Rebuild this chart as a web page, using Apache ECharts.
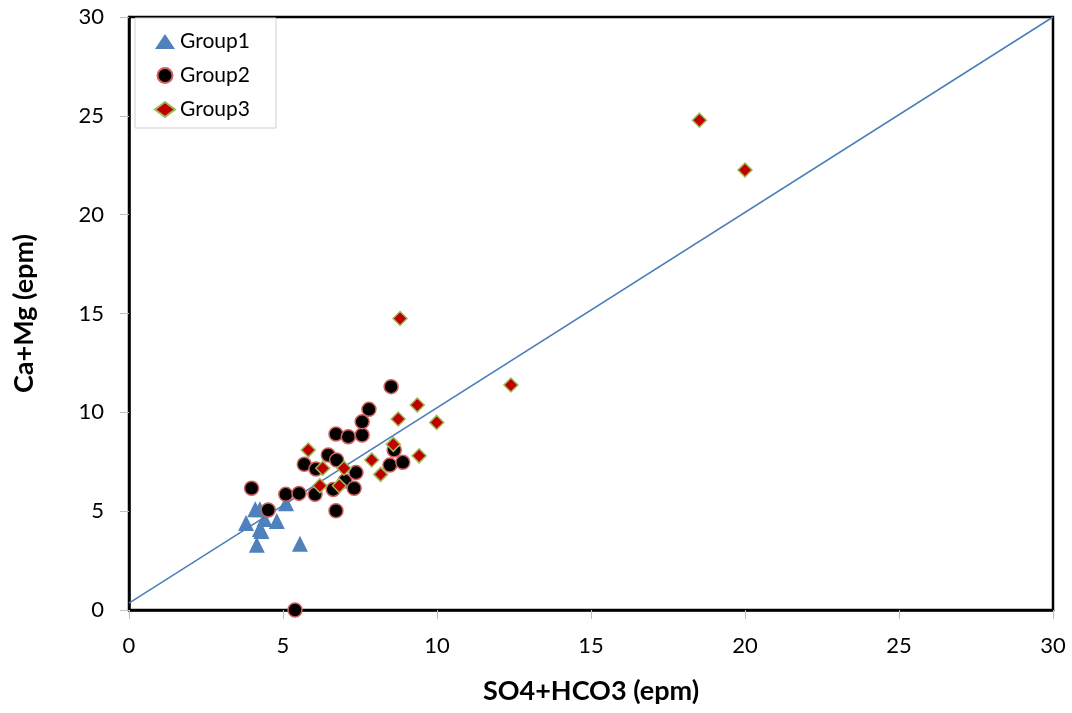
<!DOCTYPE html>
<html>
<head>
<meta charset="utf-8">
<script src="https://cdn.jsdelivr.net/npm/echarts@6/dist/echarts.min.js"></script>
<style>
  html, body { margin: 0; padding: 0; background: #fff; }
  #chart { width: 1072px; height: 713px; }
</style>
</head>
<body>
<div id="chart"></div>
<script>
// SO4+HCO3 (x) against Ca+Mg (y), both in epm
const group1X = [3.8, 4.1, 4.25, 4.15, 4.25, 4.4, 4.8, 5.1, 5.55, 4.3];
const group1Y = [4.4, 5.1, 5.1, 3.3, 4.1, 4.6, 4.5, 5.4, 3.35, 4.0];

const group2X = [3.98, 4.52, 5.09, 5.52, 6.04, 6.72, 6.63, 7.01, 7.31, 7.37, 5.69, 6.07,
                 6.47, 6.74, 6.72, 7.12, 7.57, 7.57, 7.79, 8.51, 8.47, 8.89, 8.61, 5.39];
const group2Y = [6.16, 5.06, 5.85, 5.90, 5.85, 5.02, 6.10, 6.52, 6.16, 6.95, 7.37, 7.13,
                 7.84, 7.59, 8.90, 8.77, 8.85, 9.52, 10.15, 11.30, 7.33, 7.47, 8.09, 0.0];

const group3X = [5.82, 6.29, 6.20, 6.83, 6.98, 7.88, 8.17, 8.58, 8.74, 9.36, 9.99, 9.42,
                 8.80, 12.40, 18.52, 20.0];
const group3Y = [8.09, 7.17, 6.29, 6.29, 7.17, 7.59, 6.86, 8.38, 9.66, 10.37, 9.49, 7.80,
                 14.75, 11.38, 24.78, 22.26];

// reference line end points
const lineX = [0, 30];
const lineY = [0.35, 30];

const axisTicks = [0, 5, 10, 15, 20, 25, 30];

const zip = (xs, ys) => xs.map((x, i) => [x, ys[i]]);

const font = 'Lato, "Open Sans", sans-serif';
const chart = echarts.init(document.getElementById('chart'));

const valueAxis = (name, gap, labelMargin) => ({
  type: 'value',
  min: axisTicks[0],
  max: axisTicks[axisTicks.length - 1],
  interval: axisTicks[1] - axisTicks[0],
  name: name,
  nameLocation: 'middle',
  nameGap: gap,
  nameTextStyle: { fontFamily: font, fontSize: 27, fontWeight: 'bold', color: '#000' },
  axisLine: { show: true, lineStyle: { color: '#000', width: 2.5 } },
  axisTick: { show: true, length: 9, lineStyle: { color: '#bfbfbf', width: 1 } },
  axisLabel: { fontFamily: font, fontSize: 22, color: '#000', margin: labelMargin },
  splitLine: { show: false }
});

chart.setOption({
  animation: false,
  backgroundColor: '#fff',
  grid: {
    left: 129, right: 19, top: 17, bottom: 103,
    show: true, borderColor: '#000', borderWidth: 2.5, backgroundColor: 'transparent'
  },
  legend: {
    data: ['Group1', 'Group2', 'Group3'],
    orient: 'vertical',
    left: 135, top: 18,
    padding: [13, 26, 8, 19],
    itemGap: 13,
    itemWidth: 20, itemHeight: 15,
    borderColor: '#d0d0d0', borderWidth: 1,
    backgroundColor: '#fff',
    textStyle: { fontFamily: font, fontSize: 21, color: '#000' }
  },
  xAxis: valueAxis('SO4+HCO3 (epm)', 68, 25),
  yAxis: valueAxis('Ca+Mg (epm)', 91, 25),
  series: [
    {
      name: 'line', type: 'line', data: zip(lineX, lineY),
      showSymbol: false, symbol: 'none', silent: true,
      lineStyle: { color: '#4a7ebb', width: 1.5 }, z: 3
    },
    {
      name: 'Group1', type: 'scatter', data: zip(group1X, group1Y),
      symbol: 'triangle', symbolSize: 16,
      itemStyle: { color: '#4f81bd', opacity: 1 }, z: 2
    },
    {
      name: 'Group2', type: 'scatter', data: zip(group2X, group2Y),
      symbol: 'circle', symbolSize: 14,
      itemStyle: { color: '#000', borderColor: '#d0605c', borderWidth: 1.5, opacity: 1 }, z: 4
    },
    {
      name: 'Group3', type: 'scatter', data: zip(group3X, group3Y),
      symbol: 'diamond', symbolSize: 14,
      itemStyle: { color: '#c00000', borderColor: '#9bbb59', borderWidth: 1.5, opacity: 1 }, z: 5
    }
  ]
});
</script>
</body>
</html>
